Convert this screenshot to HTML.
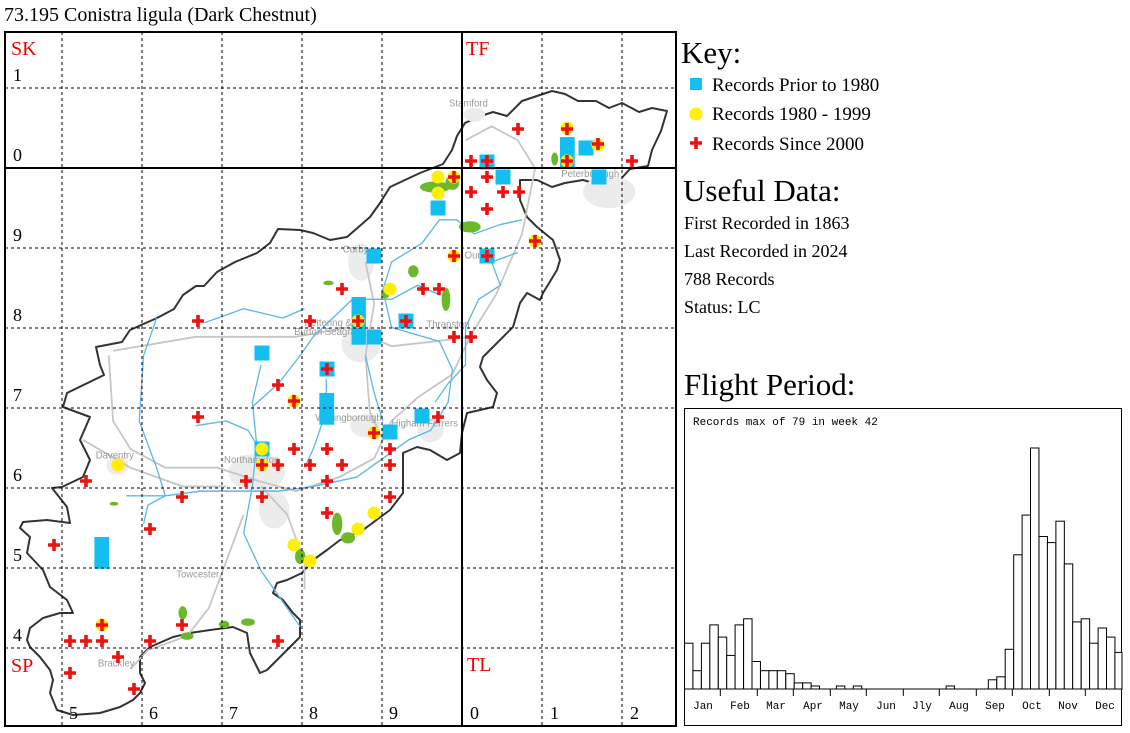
<!DOCTYPE html>
<html><head><meta charset="utf-8"><style>
html,body{margin:0;padding:0;background:#fff;}
svg{display:block;}
.s{font-family:"Liberation Serif",serif;}
.m{font-family:"Liberation Mono",monospace;}
</style></head><body>
<svg width="1130" height="733" viewBox="0 0 1130 733" xmlns="http://www.w3.org/2000/svg">
<defs>
<path id="c" d="M-6,-1.8h4.2v-4.2h3.6v4.2h4.2v3.6h-4.2v4.2h-3.6v-4.2h-4.2z" fill="#ee1111"/>
<circle id="y" r="6.5" fill="#ffef00"/>
<rect id="b" x="-7.5" y="-7.5" width="15" height="15" fill="#12bff0"/>
</defs>
<text x="4" y="21" class="s" font-size="20">73.195 Conistra ligula (Dark Chestnut)</text>

<polygon points="443,164 452,150 457,136 465,123 478,117 493,112 507,116 522,101 537,96 552,91 565,94 578,101 596,101 609,108 622,103 639,112 652,108 667,111 661,131 652,150 648,166 630,169 617,183 600,185 583,180 565,183 552,187 537,180 520,180 520,200 527,217 537,227 553,240 560,260 557,270 543,293 540,300 527,293 520,303 513,327 493,347 483,357 480,367 487,380 497,393 493,407 467,413 462,433 460,453 447,460 430,450 417,447 403,453 403,477 403,493 390,510 363,530 340,540 327,550 313,560 302,573 287,580 277,583 273,593 283,600 293,613 300,620 300,637 290,647 280,657 267,670 260,673 250,653 247,633 233,627 210,630 190,633 173,637 150,647 140,657 140,673 145,683 140,693 133,700 120,707 100,713 73,715 57,710 50,693 53,680 50,670 40,657 30,647 27,640 30,628 43,618 60,613 73,613 67,600 50,587 43,570 27,553 30,537 20,528 23,522 47,520 70,523 67,507 52,488 62,487 83,477 90,460 80,440 90,417 63,407 67,393 104,375 100,365 96,347 122,342 130,330 157,318 174,309 183,295 196,286 204,286 217,272 235,262 257,253 270,243 278,229 300,230 313,233 330,240 347,237 370,217 380,203 390,187 420,173 443,164" fill="#fff" stroke="#333" stroke-width="2" stroke-linejoin="round"/>

<g transform="scale(0.43507,0.46773)">
<g fill="#ececec">
<ellipse cx="1400" cy="410" rx="60" ry="35"/><ellipse cx="830" cy="560" rx="30" ry="40"/><ellipse cx="830" cy="735" rx="45" ry="40"/>
<ellipse cx="590" cy="1010" rx="65" ry="40"/><ellipse cx="630" cy="1090" rx="35" ry="40"/><ellipse cx="840" cy="910" rx="35" ry="25"/>
<ellipse cx="270" cy="995" rx="25" ry="20"/><ellipse cx="990" cy="920" rx="30" ry="25"/><ellipse cx="1090" cy="245" rx="25" ry="15"/>
</g>
<g fill="none" stroke="#c6c6c6" stroke-width="4">
<polyline points="1070,300 1130,270 1190,300 1230,360 1200,500 1140,630 1080,720 1040,800 960,850 900,900 860,980 780,1020 680,1050 600,1030 500,1000 380,1000 300,960 260,900 250,760"/>
<polyline points="260,750 450,720 680,720 800,700 900,740 1000,730 1080,720"/>
<polyline points="600,1040 660,1100 700,1200 700,1260"/>
<polyline points="560,1100 520,1200 480,1300 430,1360 340,1390 300,1430"/>
<polyline points="190,940 300,1000 420,1040 520,1040"/>
<polyline points="840,560 860,650 840,760 850,880 880,940"/>
</g>
<g fill="none" stroke="#5cb8ea" stroke-width="3">
<polyline points="1200,470 1150,480 1090,500 1050,470 1010,470 970,520 900,560 880,620 900,700 1010,730 1040,790 1030,860 990,920 940,940 880,980 820,1020 720,1040 640,1050 560,1050 460,1050 380,1060 290,1060"/>
<polyline points="1190,540 1130,560 1150,610 1100,640 1070,700 1070,780 1030,820 1000,860"/>
<polyline points="360,680 330,760 320,900 360,1000 380,1060 340,1080 330,1120"/>
<polyline points="450,910 520,900 570,920 590,950 580,1040 560,1140 600,1220 660,1300 690,1340"/>
<polyline points="580,870 640,820 690,760 720,720 810,640 900,640 960,610 1010,630"/>
<polyline points="470,690 560,660 650,680 700,660"/>
<polyline points="600,780 580,860 590,950"/>
<polyline points="750,810 750,880 720,960 700,1000"/>
<polyline points="840,760 860,840 880,900"/>
</g>
<g fill="#6cb82a">
<ellipse cx="1000" cy="400" rx="35" ry="12"/><ellipse cx="1040" cy="390" rx="16" ry="16"/><ellipse cx="1080" cy="485" rx="25" ry="12"/>
<ellipse cx="950" cy="580" rx="12" ry="13"/><ellipse cx="1025" cy="640" rx="10" ry="25"/><ellipse cx="775" cy="1120" rx="12" ry="24"/>
<ellipse cx="800" cy="1150" rx="16" ry="12"/><ellipse cx="690" cy="1190" rx="12" ry="16"/><ellipse cx="420" cy="1310" rx="10" ry="14"/>
<ellipse cx="430" cy="1360" rx="15" ry="8"/><ellipse cx="515" cy="1335" rx="12" ry="8"/><ellipse cx="570" cy="1330" rx="16" ry="8"/>
<ellipse cx="1275" cy="340" rx="8" ry="14"/><ellipse cx="755" cy="605" rx="12" ry="5"/><ellipse cx="262" cy="1077" rx="10" ry="4"/>
<ellipse cx="885" cy="630" rx="10" ry="8"/>
</g>
<g font-family="Liberation Sans,sans-serif" font-size="22" fill="#999">
<text x="1032" y="228">Stamford</text><text x="1290" y="378">Peterborough</text><text x="788" y="540">Corby</text>
<text x="700" y="697">Kettering &amp;</text><text x="676" y="716">Burton Seagrave</text><text x="980" y="700">Thrapston</text>
<text x="725" y="900">Wellingborough</text><text x="515" y="990">Northampton</text><text x="220" y="980">Daventry</text>
<text x="405" y="1235">Towcester</text><text x="225" y="1425">Brackley</text><text x="900" y="912">Higham Ferrers</text><text x="1068" y="553">Oundle</text>
</g>
<g fill="#12bff0">
<rect x="1287" y="293" width="34" height="67"/><rect x="808" y="635" width="33" height="102"/><rect x="734" y="840" width="34" height="68"/><rect x="217" y="1148" width="34" height="68"/>
</g>
</g>

<g>
<use href="#b" x="586" y="148"/><use href="#b" x="487" y="162"/><use href="#b" x="503" y="177"/><use href="#b" x="599" y="177"/>
<use href="#b" x="438" y="208"/><use href="#b" x="374" y="256"/><use href="#b" x="487" y="256"/><use href="#b" x="374" y="337"/>
<use href="#b" x="406" y="321"/><use href="#b" x="262" y="353"/><use href="#b" x="327" y="369"/><use href="#b" x="422" y="416"/>
<use href="#b" x="390" y="432"/><use href="#b" x="262" y="449"/>
</g>
<g>
<use href="#y" x="567" y="128"/><use href="#y" x="598" y="145"/><use href="#y" x="567" y="161"/><use href="#y" x="454" y="177"/>
<use href="#y" x="438" y="177"/><use href="#y" x="438" y="193"/><use href="#y" x="535" y="241"/><use href="#y" x="454" y="256"/>
<use href="#y" x="390" y="289"/><use href="#y" x="358" y="321"/><use href="#y" x="294" y="401"/><use href="#y" x="374" y="433"/>
<use href="#y" x="262" y="449"/><use href="#y" x="262" y="465"/><use href="#y" x="118" y="465"/><use href="#y" x="374" y="513"/>
<use href="#y" x="358" y="529"/><use href="#y" x="294" y="545"/><use href="#y" x="310" y="561"/><use href="#y" x="102" y="625"/>
</g>
<g>
<use href="#c" x="518" y="129"/><use href="#c" x="567" y="129"/><use href="#c" x="598" y="144"/><use href="#c" x="632" y="161"/>
<use href="#c" x="567" y="161"/><use href="#c" x="471" y="161"/><use href="#c" x="487" y="161"/><use href="#c" x="454" y="177"/>
<use href="#c" x="487" y="177"/><use href="#c" x="471" y="192"/><use href="#c" x="503" y="192"/><use href="#c" x="519" y="192"/>
<use href="#c" x="487" y="209"/><use href="#c" x="535" y="241"/><use href="#c" x="454" y="256"/><use href="#c" x="487" y="256"/>
<use href="#c" x="342" y="289"/><use href="#c" x="423" y="289"/><use href="#c" x="439" y="289"/><use href="#c" x="198" y="321"/>
<use href="#c" x="310" y="321"/><use href="#c" x="358" y="321"/><use href="#c" x="406" y="321"/><use href="#c" x="454" y="337"/>
<use href="#c" x="471" y="337"/><use href="#c" x="327" y="369"/><use href="#c" x="278" y="385"/><use href="#c" x="294" y="401"/>
<use href="#c" x="198" y="417"/><use href="#c" x="438" y="417"/><use href="#c" x="374" y="433"/><use href="#c" x="294" y="449"/>
<use href="#c" x="327" y="449"/><use href="#c" x="390" y="449"/><use href="#c" x="262" y="465"/><use href="#c" x="278" y="465"/>
<use href="#c" x="310" y="465"/><use href="#c" x="342" y="465"/><use href="#c" x="390" y="465"/><use href="#c" x="86" y="481"/>
<use href="#c" x="246" y="481"/><use href="#c" x="327" y="481"/><use href="#c" x="182" y="497"/><use href="#c" x="262" y="497"/>
<use href="#c" x="390" y="497"/><use href="#c" x="327" y="513"/><use href="#c" x="150" y="529"/><use href="#c" x="54" y="545"/>
<use href="#c" x="102" y="625"/><use href="#c" x="182" y="625"/><use href="#c" x="70" y="641"/><use href="#c" x="86" y="641"/>
<use href="#c" x="102" y="641"/><use href="#c" x="150" y="641"/><use href="#c" x="278" y="641"/><use href="#c" x="118" y="657"/>
<use href="#c" x="70" y="673"/><use href="#c" x="134" y="689"/>
</g>

<g stroke="#000" stroke-width="1" stroke-dasharray="3,3" fill="none">
<path d="M62,32V726M142,32V726M222,32V726M302,32V726M382,32V726M542,32V726M622,32V726"/>
<path d="M5,88H676M5,248H676M5,328H676M5,408H676M5,488H676M5,568H676M5,648H676"/>
</g>
<g stroke="#000" stroke-width="2" fill="none">
<rect x="5" y="32" width="671" height="694"/>
<path d="M462,32V726M5,168H676"/>
</g>
<g class="s" font-size="20" fill="#e00">
<text x="11" y="55">SK</text><text x="466" y="55">TF</text><text x="11" y="672">SP</text><text x="467" y="671">TL</text>
</g>
<g class="s" font-size="18" fill="#000">
<text x="13" y="81">1</text><text x="13" y="161">0</text><text x="13" y="241">9</text><text x="13" y="321">8</text>
<text x="13" y="401">7</text><text x="13" y="481">6</text><text x="13" y="561">5</text><text x="13" y="641">4</text>
<text x="69" y="719">5</text><text x="149" y="719">6</text><text x="229" y="719">7</text><text x="309" y="719">8</text>
<text x="389" y="719">9</text><text x="470" y="719">0</text><text x="550" y="719">1</text><text x="630" y="719">2</text>
</g>

<g class="s" fill="#000">
<text x="681" y="63" font-size="31">Key:</text>
<rect x="690" y="78" width="12" height="12" fill="#12bff0"/>
<text x="712" y="91" font-size="19">Records Prior to 1980</text>
<circle cx="696" cy="114" r="6.5" fill="#ffef00"/>
<text x="712" y="120" font-size="19">Records 1980 - 1999</text>
<use href="#c" x="696" y="143"/>
<text x="712" y="150" font-size="19">Records Since 2000</text>
<text x="683" y="201" font-size="31">Useful Data:</text>
<text x="684" y="229" font-size="18">First Recorded in 1863</text>
<text x="684" y="257" font-size="18">Last Recorded in 2024</text>
<text x="684" y="285" font-size="18">788 Records</text>
<text x="684" y="313" font-size="18">Status: LC</text>
<text x="684" y="395" font-size="31">Flight Period:</text>
</g>

<rect x="684.5" y="408.5" width="437" height="317" fill="none" stroke="#000"/>
<text x="693" y="425" class="m" font-size="11">Records max of 79 in week 42</text>
<g fill="#fff" stroke="#000" stroke-width="1">
<rect x="684.5" y="643.2" width="8.44" height="45.8"/>
<rect x="692.9" y="670.7" width="8.44" height="18.3"/>
<rect x="701.4" y="643.2" width="8.44" height="45.8"/>
<rect x="709.8" y="624.9" width="8.44" height="64.1"/>
<rect x="718.3" y="637.1" width="8.44" height="51.9"/>
<rect x="726.7" y="655.4" width="8.44" height="33.6"/>
<rect x="735.1" y="624.9" width="8.44" height="64.1"/>
<rect x="743.6" y="618.8" width="8.44" height="70.2"/>
<rect x="752.0" y="661.5" width="8.44" height="27.5"/>
<rect x="760.5" y="670.7" width="8.44" height="18.3"/>
<rect x="768.9" y="670.7" width="8.44" height="18.3"/>
<rect x="777.3" y="670.7" width="8.44" height="18.3"/>
<rect x="785.8" y="673.7" width="8.44" height="15.3"/>
<rect x="794.2" y="682.9" width="8.44" height="6.1"/>
<rect x="802.7" y="682.9" width="8.44" height="6.1"/>
<rect x="811.1" y="686" width="8.44" height="3"/>
<rect x="836.4" y="686" width="8.44" height="3"/>
<rect x="853.3" y="686" width="8.44" height="3"/>
<rect x="946.1" y="686" width="8.44" height="3"/>
<rect x="988.3" y="679.8" width="8.44" height="9.2"/>
<rect x="996.8" y="676.8" width="8.44" height="12.2"/>
<rect x="1005.2" y="649.3" width="8.44" height="39.7"/>
<rect x="1013.7" y="554.8" width="8.44" height="134.2"/>
<rect x="1022.1" y="515.1" width="8.44" height="173.9"/>
<rect x="1030.5" y="448" width="8.44" height="241"/>
<rect x="1039.0" y="536.5" width="8.44" height="152.5"/>
<rect x="1047.4" y="542.6" width="8.44" height="146.4"/>
<rect x="1055.9" y="521.2" width="8.44" height="167.8"/>
<rect x="1064.3" y="563.9" width="8.44" height="125.1"/>
<rect x="1072.7" y="621.9" width="8.44" height="67.1"/>
<rect x="1081.2" y="618.8" width="8.44" height="70.2"/>
<rect x="1089.6" y="643.2" width="8.44" height="45.8"/>
<rect x="1098.1" y="628" width="8.44" height="61"/>
<rect x="1106.5" y="637.1" width="8.44" height="51.9"/>
<rect x="1114.9" y="652.4" width="7.1" height="36.6"/>
</g>
<path d="M684.5,689H1122M720.3,689v7M757.3,689v7M793.3,689v7M830.3,689v7M866.3,689v7M903.3,689v7M939.3,689v7M976.3,689v7M1012.3,689v7M1049.3,689v7M1085.3,689v7" stroke="#000" fill="none"/>
<g class="m" font-size="11" text-anchor="middle">
<text x="703" y="709">Jan</text><text x="740" y="709">Feb</text><text x="776" y="709">Mar</text><text x="813" y="709">Apr</text>
<text x="849" y="709">May</text><text x="886" y="709">Jun</text><text x="922" y="709">Jly</text><text x="959" y="709">Aug</text>
<text x="995" y="709">Sep</text><text x="1032" y="709">Oct</text><text x="1068" y="709">Nov</text><text x="1105" y="709">Dec</text>
</g>
</svg>
</body></html>
